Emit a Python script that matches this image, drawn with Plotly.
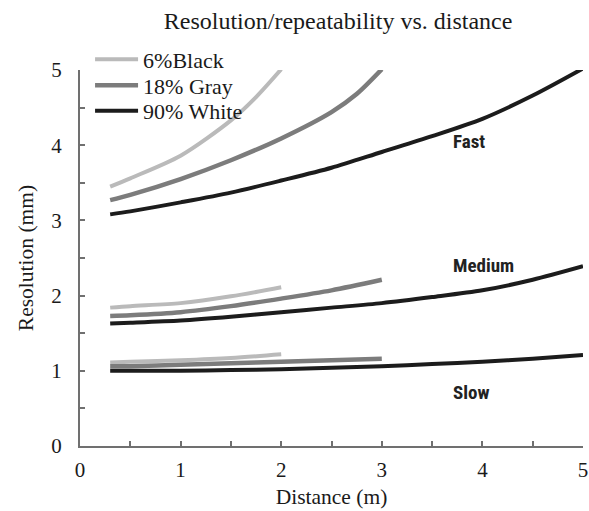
import plotly.graph_objects as go

# ---- data ----
series_names = ["6%Black", "18% Gray", "90% White"]
speed_labels = ["Fast", "Medium", "Slow"]

x_fast_black = [0.3, 0.5, 1.0, 1.5, 1.75, 2.0]
y_fast_black = [3.45, 3.56, 3.86, 4.33, 4.64, 5.01]
x_fast_gray = [0.3, 0.5, 1.0, 1.5, 2.0, 2.5, 2.75, 3.0]
y_fast_gray = [3.27, 3.34, 3.55, 3.80, 4.09, 4.44, 4.68, 5.01]
x_fast_white = [0.3, 0.5, 1.0, 1.5, 2.0, 2.5, 3.0, 3.5, 4.0, 4.5, 5.0]
y_fast_white = [3.08, 3.12, 3.24, 3.37, 3.53, 3.70, 3.91, 4.12, 4.35, 4.66, 5.02]

x_med_black = [0.3, 0.5, 1.0, 1.5, 2.0]
y_med_black = [1.84, 1.86, 1.90, 1.99, 2.11]
x_med_gray = [0.3, 0.5, 1.0, 1.5, 2.0, 2.5, 3.0]
y_med_gray = [1.73, 1.74, 1.78, 1.86, 1.96, 2.07, 2.21]
x_med_white = [0.3, 0.5, 1.0, 1.5, 2.0, 2.5, 3.0, 3.5, 4.0, 4.5, 5.0]
y_med_white = [1.63, 1.64, 1.67, 1.72, 1.78, 1.84, 1.90, 1.98, 2.07, 2.21, 2.39]

x_slow_black = [0.3, 0.5, 1.0, 1.5, 2.0]
y_slow_black = [1.11, 1.12, 1.14, 1.17, 1.22]
x_slow_gray = [0.3, 0.5, 1.0, 1.5, 2.0, 2.5, 3.0]
y_slow_gray = [1.06, 1.06, 1.08, 1.10, 1.12, 1.14, 1.16]
x_slow_white = [0.3, 0.5, 1.0, 1.5, 2.0, 2.5, 3.0, 3.5, 4.0, 4.5, 5.0]
y_slow_white = [1.00, 1.00, 1.00, 1.01, 1.02, 1.04, 1.06, 1.09, 1.12, 1.16, 1.21]

label_x = [3.69, 3.69, 3.69]
label_y = [4.05, 2.40, 0.71]

# ---- styling ----
colors = {"6%Black": "#bababa", "18% Gray": "#7c7c7c", "90% White": "#1c1c1c"}
widths = {"6%Black": 4, "18% Gray": 4.5, "90% White": 4}
legend_ids = {"6%Black": "legend", "18% Gray": "legend2", "90% White": "legend3"}
legend_y = {"6%Black": 1.028, "18% Gray": 0.959, "90% White": 0.891}
serif = "Liberation Serif"
txt = "#1a1a1a"
axc = "#707070"

fig = go.Figure()

groups = [
    ("6%Black", [(x_fast_black, y_fast_black), (x_med_black, y_med_black), (x_slow_black, y_slow_black)]),
    ("18% Gray", [(x_fast_gray, y_fast_gray), (x_med_gray, y_med_gray), (x_slow_gray, y_slow_gray)]),
    ("90% White", [(x_fast_white, y_fast_white), (x_med_white, y_med_white), (x_slow_white, y_slow_white)]),
]
for name, curves in groups:
    for i, (xs, ys) in enumerate(curves):
        fig.add_trace(go.Scatter(
            x=xs, y=ys, mode="lines", name=name, legendgroup=name,
            legend=legend_ids[name], showlegend=(i == 0),
            line=dict(color=colors[name], width=widths[name], shape="spline", smoothing=0.8),
        ))

for lab, lx, ly in zip(speed_labels, label_x, label_y):
    fig.add_annotation(
        x=lx, y=ly, text=lab, showarrow=False, xanchor="left", yanchor="middle",
        font=dict(family="Liberation Sans Narrow, Roboto Condensed, Arial Narrow, sans-serif",
                  size=19, color="#222222", weight="bold"),
    )

def axis(title, standoff, labstand):
    return dict(
        range=[0, 5], dtick=1, tick0=0,
        showline=True, linecolor=axc, linewidth=2,
        ticks="inside", ticklen=5, tickcolor=axc, tickwidth=1.5,
        showgrid=False, zeroline=False, mirror=False,
        tickfont=dict(family=serif, size=21, color=txt),
        minor=dict(dtick=0.5, ticks="inside", ticklen=5, tickcolor=axc, tickwidth=1.5, showgrid=False),
        title=dict(text=title, font=dict(family=serif, size=21.5, color=txt), standoff=standoff),
        ticklabelstandoff=labstand,
    )

leg_common = dict(x=0.02, xanchor="left", yanchor="middle", bgcolor="rgba(0,0,0,0)",
                  font=dict(family=serif, size=22, color=txt), itemwidth=43, tracegroupgap=0)

fig.update_layout(
    width=589, height=511,
    font=dict(family=serif, color=txt),
    margin=dict(l=80, r=6, t=69.5, b=65, autoexpand=False),
    paper_bgcolor="white", plot_bgcolor="white",
    title=dict(text="Resolution/repeatability vs. distance", x=0.574, xref="container",
               xanchor="center", y=1 - 21 / 511, yref="container", yanchor="middle",
               font=dict(family=serif, size=24, color=txt)),
    xaxis=axis("Distance (m)", 8, 4),
    yaxis=axis("Resolution (mm)", 12, 12),
    legend=dict(y=legend_y["6%Black"], **leg_common),
    legend2=dict(y=legend_y["18% Gray"], **leg_common),
    legend3=dict(y=legend_y["90% White"], **leg_common),
    showlegend=True,
)

fig.write_html("out.html")
